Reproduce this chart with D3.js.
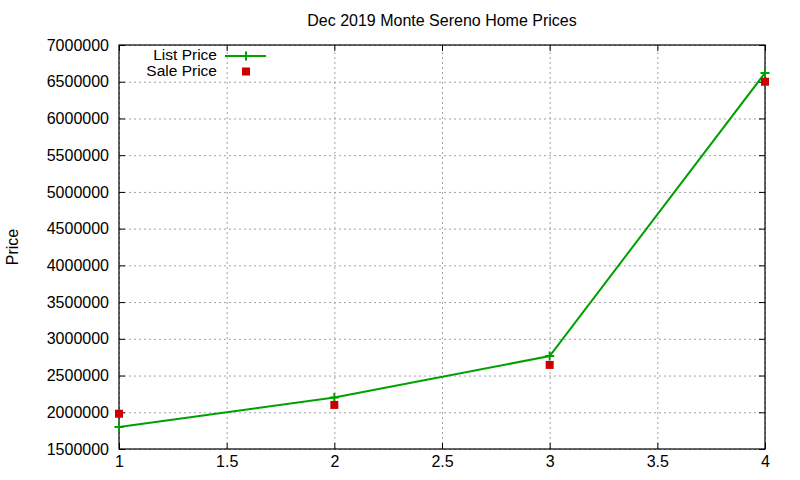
<!DOCTYPE html>
<html>
<head>
<meta charset="utf-8">
<script src="https://cdn.jsdelivr.net/npm/d3@7"></script>
<style>
    body { margin: 0; background: #fff; }
    svg { font-family: "Liberation Sans", Arial, sans-serif; }
    .grid line { stroke: #a0a0a0; stroke-width: 1; stroke-dasharray: 2,3; }
    .grid .domain { display: none; }
    .axis .domain { display: none; }
    .axis line { stroke: #000; }
    .axis text { font-size: 16px; fill: #000; }
</style>
</head>
<body>
<div id="chart"></div>
<script>

// data
var xs = [1, 2, 3, 4];
var listPrice = [1800000, 2200000, 2765000, 6620000];
var salePrice = [1980000, 2100000, 2645000, 6500000];

var xTicks = [1, 1.5, 2, 2.5, 3, 3.5, 4];
var yTicks = [1500000, 2000000, 2500000, 3000000, 3500000, 4000000, 4500000,
              5000000, 5500000, 6000000, 6500000, 7000000];

var title = "Dec 2019 Monte Sereno Home Prices";

var margin = {top: 45, right: 35, bottom: 31, left: 119};
var width = 800 - margin.left - margin.right,
    height = 480 - margin.top - margin.bottom;

var svg = d3.select("#chart").append("svg")
    .attr("width", 800)
    .attr("height", 480);

var g = svg.append("g")
    .attr("transform", "translate(" + margin.left + "," + margin.top + ")");

var x = d3.scaleLinear().domain([1, 4]).range([0, width]);
var y = d3.scaleLinear().domain([1500000, 7000000]).range([height, 0]);

// grid
g.append("g")
    .attr("class", "grid")
    .attr("transform", "translate(0," + height + ")")
    .call(d3.axisBottom(x).tickValues(xTicks).tickSize(-height).tickFormat(""));

g.append("g")
    .attr("class", "grid")
    .call(d3.axisLeft(y).tickValues(yTicks).tickSize(-width).tickFormat(""));

// axes, ticks pointing inward (mirrored on top and right)
g.append("g")
    .attr("class", "axis")
    .attr("transform", "translate(0," + height + ")")
    .call(d3.axisBottom(x).tickValues(xTicks).tickSize(-6).tickPadding(10)
        .tickFormat(function(d) { return String(d); }))
    .selectAll("text").attr("dy", "0.71em").attr("y", 7);

g.append("g")
    .attr("class", "axis")
    .call(d3.axisLeft(y).tickValues(yTicks).tickSize(-6).tickPadding(10)
        .tickFormat(d3.format("d")));

g.append("g")
    .attr("class", "axis")
    .call(d3.axisTop(x).tickValues(xTicks).tickSize(-6).tickFormat(""));

g.append("g")
    .attr("class", "axis")
    .attr("transform", "translate(" + width + ",0)")
    .call(d3.axisRight(y).tickValues(yTicks).tickSize(-6).tickFormat(""));

g.append("rect")
    .attr("width", width)
    .attr("height", height)
    .attr("fill", "none")
    .attr("stroke", "#000")
    .attr("stroke-width", 1.2);

// title and y label
svg.append("text")
    .attr("x", margin.left + width / 2)
    .attr("y", 26)
    .attr("text-anchor", "middle")
    .style("font-size", "16px")
    .text(title);

svg.append("text")
    .attr("transform", "translate(18," + (margin.top + height / 2) + ") rotate(-90)")
    .attr("text-anchor", "middle")
    .style("font-size", "16px")
    .text("Price");

// list price line + plus markers
var listData = xs.map(function(d, i) { return {x: d, v: listPrice[i]}; });
var saleData = xs.map(function(d, i) { return {x: d, v: salePrice[i]}; });

var green = "#00a000", red = "#cc0000";

var line = d3.line()
    .x(function(d) { return x(d.x); })
    .y(function(d) { return y(d.v); });

g.append("path")
    .datum(listData)
    .attr("d", line)
    .attr("fill", "none")
    .attr("stroke", green)
    .attr("stroke-width", 2);

g.selectAll(".plus")
    .data(listData)
    .enter().append("path")
    .attr("class", "plus")
    .attr("d", function(d) {
        var cx = x(d.x), cy = y(d.v), s = 4.5;
        return "M" + (cx - s) + "," + cy + "H" + (cx + s) + "M" + cx + "," + (cy - s) + "V" + (cy + s);
    })
    .attr("stroke", green)
    .attr("stroke-width", 2);

g.selectAll(".square")
    .data(saleData)
    .enter().append("rect")
    .attr("class", "square")
    .attr("x", function(d) { return x(d.x) - 4; })
    .attr("y", function(d) { return y(d.v) - 4; })
    .attr("width", 8)
    .attr("height", 8)
    .attr("fill", red);

// legend
var legend = svg.append("g").attr("transform", "translate(217,56)");

legend.append("text")
    .attr("y", -1.5)
    .attr("text-anchor", "end")
    .attr("dy", "0.35em")
    .style("font-size", "15.5px")
    .text("List Price");
legend.append("line")
    .attr("x1", 8).attr("x2", 49)
    .attr("stroke", green).attr("stroke-width", 2);
legend.append("path")
    .attr("d", "M24.5,0H33.5M29,-4.5V4.5")
    .attr("stroke", green).attr("stroke-width", 2);

legend.append("text")
    .attr("y", 15)
    .attr("text-anchor", "end")
    .attr("dy", "0.35em")
    .style("font-size", "15.5px")
    .text("Sale Price");
legend.append("rect")
    .attr("x", 25).attr("y", 11.5)
    .attr("width", 8).attr("height", 8)
    .attr("fill", red);

</script>
</body>
</html>
